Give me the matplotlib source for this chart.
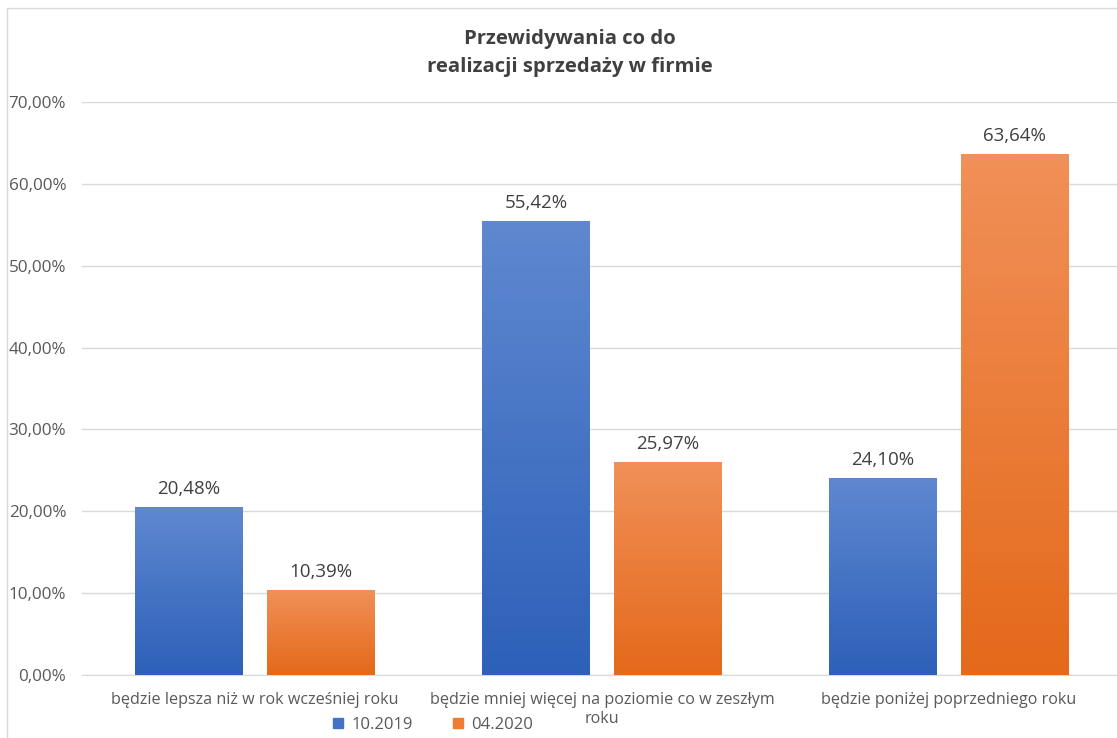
import matplotlib.pyplot as plt
import numpy as np
from matplotlib.patches import Rectangle
from matplotlib.colors import LinearSegmentedColormap

plt.rcParams['font.family'] = ['Open Sans', 'DejaVu Sans']

kategorie = ["będzie lepsza niż w rok wcześniej roku",
             "będzie mniej więcej na poziomie co w zeszłym\nroku",
             "będzie poniżej poprzedniego roku"]
serie = ["10.2019", "04.2020"]
wartosci_2019 = [20.48, 55.42, 24.10]
wartosci_2020 = [10.39, 25.97, 63.64]

kolory_gora = ["#5f88d0", "#f19058"]
kolory_dol = ["#2d60b9", "#e4691a"]
kolory_legenda = ["#4472c4", "#ed7d31"]

fig = plt.figure(figsize=(11.17, 7.38), dpi=100)
ax = fig.add_axes([81.5 / 1117, 63 / 738, 1041 / 1117, 573 / 738])

x = np.arange(len(kategorie))
szer = 0.311
przes = 0.19

for i, (vals, off) in enumerate([(wartosci_2019, -przes), (wartosci_2020, przes)]):
    cmap = LinearSegmentedColormap.from_list("g%d" % i, [kolory_dol[i], kolory_gora[i]])
    bars = ax.bar(x + off, vals, szer, color="none", edgecolor="none", zorder=3)
    for b, v in zip(bars, vals):
        x0 = b.get_x()
        grad = np.linspace(0, 1, 256).reshape(-1, 1)
        im = ax.imshow(grad, cmap=cmap, origin="lower", aspect="auto",
                       extent=[x0, x0 + szer, 0, v], zorder=3)
        im.set_clip_path(b)
        ax.text(b.get_x() + szer / 2, v + 1.1, f"{v:.2f}%".replace(".", ","),
                ha="center", va="bottom", fontsize=13.5, color="#404040", zorder=4)

ax.set_xlim(-0.5, 2.5)
ax.set_ylim(0, 70)
ax.set_yticks(np.arange(0, 71, 10))
ax.set_yticklabels([f"{t:.2f}%".replace(".", ",") for t in range(0, 71, 10)],
                   fontsize=12.3, color="#595959")
ax.set_xticks(x)
ax.set_xticklabels(kategorie, fontsize=11.6, color="#595959", linespacing=1.25, va="top")
ax.tick_params(axis="both", length=0)
ax.tick_params(axis="y", pad=11)
ax.tick_params(axis="x", pad=12)
ax.grid(axis="y", color="#d9d9d9", linewidth=1, zorder=0)
ax.set_axisbelow(True)
for s in ["top", "right", "left"]:
    ax.spines[s].set_visible(False)
ax.spines["bottom"].set_color("#d9d9d9")

fig.text(570 / 1117, 1 - 53 / 738, "Przewidywania co do\nrealizacji sprzedaży w firmie",
         ha="center", va="center", fontsize=14.6, fontweight="bold", color="#404040",
         linespacing=1.55)

handles = [Rectangle((0, 0), 1, 1, color=c) for c in kolory_legenda]
fig.legend(handles, serie, loc="center", bbox_to_anchor=(433 / 1117, 1 - 725 / 738),
           ncol=2, frameon=False, fontsize=12, handlelength=0.6, handleheight=0.6,
           columnspacing=2.4, handletextpad=0.5, labelcolor="#595959")

fig.add_artist(Rectangle((7 / 1117, -0.1), 2, 1.1 - 8 / 738, transform=fig.transFigure,
                         fill=False, edgecolor="#d9d9d9", linewidth=1))

fig.savefig("out.png", dpi=100)
